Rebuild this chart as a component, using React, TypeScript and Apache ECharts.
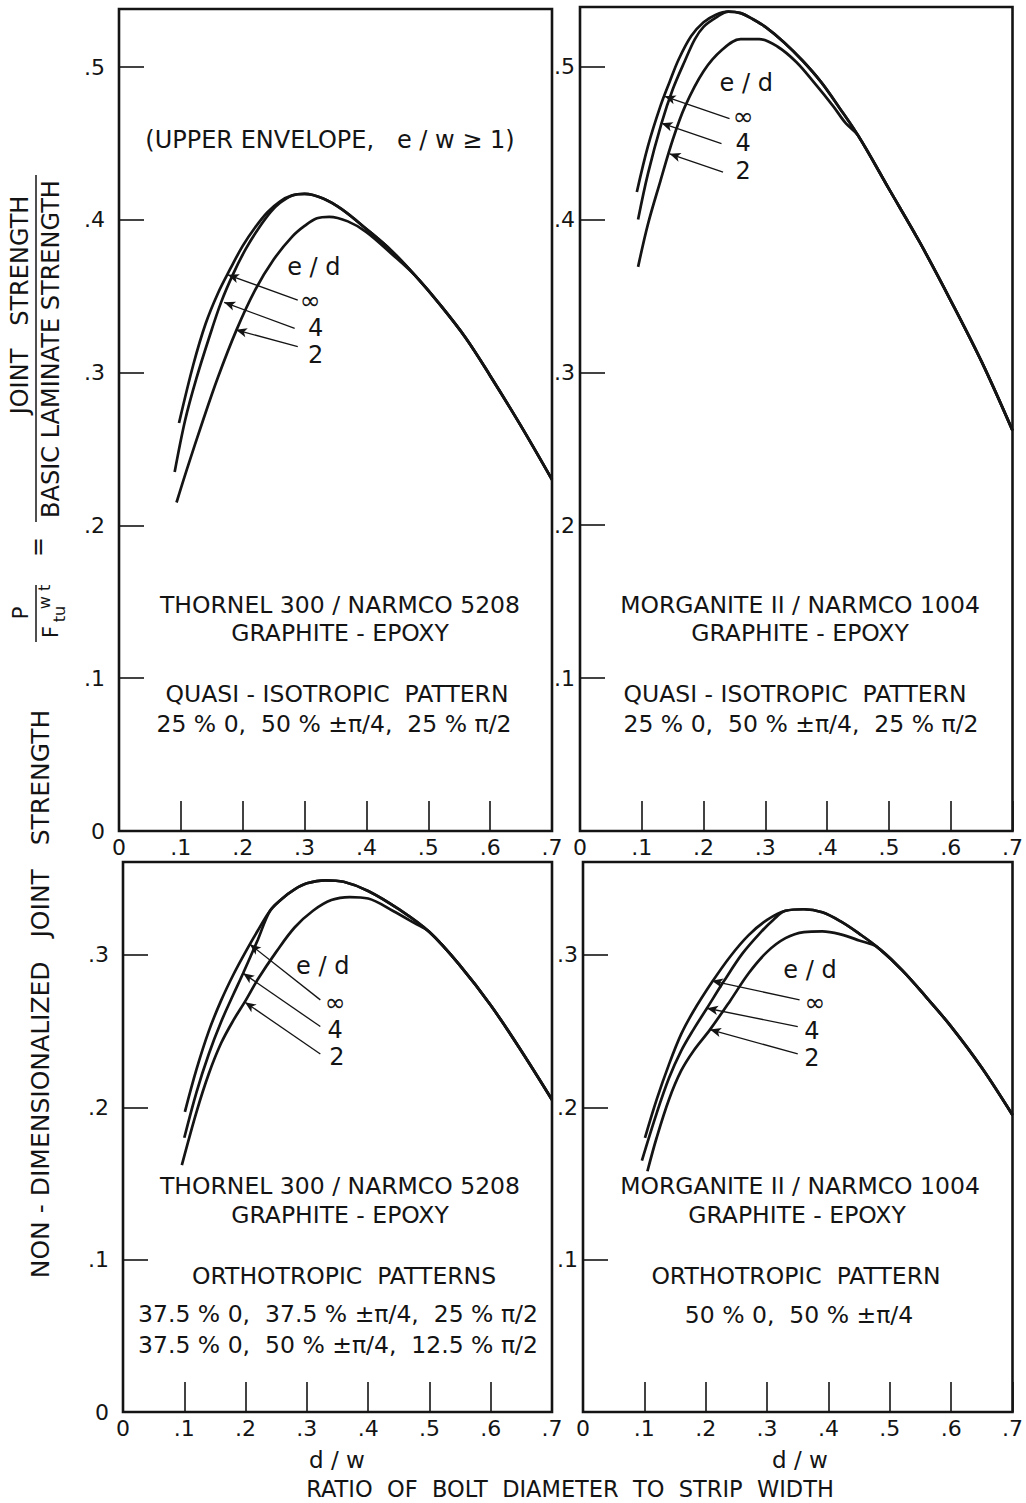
import React, { useEffect, useRef } from 'react';
import * as echarts from 'echarts';

const FONT = '"DejaVu Sans", "Liberation Sans", sans-serif';
const INK = '#141414';

// ---------- data (d/w , P/Ftu w t) ----------
// Top-left: Thornel 300 / Narmco 5208, quasi-isotropic
const TL_INF_RISE = [[0.097, 0.267], [0.12, 0.305], [0.14, 0.332], [0.16, 0.352], [0.18, 0.368], [0.2, 0.383], [0.22, 0.395], [0.24, 0.405], [0.26, 0.412]];
const TL_4_RISE = [[0.09, 0.235], [0.107, 0.269], [0.125, 0.296], [0.145, 0.322], [0.165, 0.346], [0.185, 0.365], [0.205, 0.381], [0.225, 0.394], [0.245, 0.405], [0.26, 0.411]];
const TL_PEAK = [[0.28, 0.416], [0.3, 0.417], [0.33, 0.414], [0.36, 0.407], [0.4, 0.394], [0.44, 0.38]];
const TL_2_OWN = [[0.093, 0.215], [0.11, 0.237], [0.136, 0.269], [0.16, 0.297], [0.19, 0.328], [0.22, 0.354], [0.25, 0.374], [0.28, 0.389], [0.3, 0.396], [0.32, 0.401], [0.34, 0.402], [0.37, 0.399], [0.4, 0.392], [0.44, 0.378]];
const TL_TAIL = [[0.48, 0.363], [0.52, 0.344], [0.56, 0.323], [0.6, 0.298], [0.65, 0.265], [0.7, 0.23]];

// Top-right: Morganite II / Narmco 1004, quasi-isotropic
const TR_INF_RISE = [[0.092, 0.418], [0.11, 0.448], [0.13, 0.474], [0.145, 0.49], [0.16, 0.505], [0.18, 0.52], [0.2, 0.529], [0.22, 0.534]];
const TR_4_RISE = [[0.094, 0.4], [0.11, 0.43], [0.132, 0.463], [0.15, 0.485], [0.17, 0.504], [0.186, 0.518], [0.2, 0.526], [0.22, 0.532]];
const TR_PEAK = [[0.24, 0.536], [0.26, 0.535], [0.28, 0.531], [0.3, 0.526], [0.33, 0.516], [0.36, 0.504], [0.39, 0.49], [0.42, 0.473]];
const TR_2_OWN = [[0.094, 0.369], [0.11, 0.397], [0.13, 0.425], [0.15, 0.452], [0.17, 0.474], [0.2, 0.497], [0.23, 0.511], [0.26, 0.518], [0.29, 0.518], [0.32, 0.513], [0.35, 0.503], [0.38, 0.489], [0.41, 0.474], [0.43, 0.463]];
const TR_TAIL = [[0.45, 0.455], [0.5, 0.42], [0.55, 0.385], [0.6, 0.347], [0.65, 0.307], [0.7, 0.262]];

// Bottom-left: Thornel 300 / Narmco 5208, orthotropic
const BL_INF_RISE = [[0.101, 0.197], [0.12, 0.225], [0.14, 0.25], [0.16, 0.27], [0.18, 0.287], [0.2, 0.302], [0.22, 0.316]];
const BL_4_RISE = [[0.1, 0.18], [0.12, 0.21], [0.14, 0.235], [0.16, 0.256], [0.18, 0.274], [0.196, 0.288], [0.22, 0.31]];
const BL_PEAK = [[0.24, 0.329], [0.26, 0.337], [0.28, 0.343], [0.3, 0.347], [0.33, 0.349], [0.36, 0.348], [0.4, 0.342], [0.45, 0.33]];
const BL_2_OWN = [[0.096, 0.162], [0.12, 0.197], [0.14, 0.222], [0.16, 0.242], [0.18, 0.257], [0.2, 0.27], [0.22, 0.284], [0.25, 0.302], [0.28, 0.318], [0.31, 0.329], [0.34, 0.336], [0.37, 0.338], [0.4, 0.337], [0.44, 0.329], [0.475, 0.321]];
const BL_TAIL = [[0.5, 0.315], [0.55, 0.293], [0.6, 0.267], [0.65, 0.237], [0.7, 0.205]];

// Bottom-right: Morganite II / Narmco 1004, orthotropic
const BR_INF_RISE = [[0.101, 0.18], [0.12, 0.205], [0.14, 0.228], [0.16, 0.248], [0.18, 0.263], [0.21, 0.282], [0.24, 0.299], [0.27, 0.313], [0.3, 0.323]];
const BR_4_RISE = [[0.096, 0.165], [0.12, 0.196], [0.14, 0.219], [0.16, 0.237], [0.18, 0.251], [0.202, 0.265], [0.23, 0.283], [0.26, 0.301], [0.29, 0.315], [0.31, 0.323]];
const BR_PEAK = [[0.33, 0.329], [0.36, 0.33], [0.39, 0.328], [0.42, 0.322], [0.45, 0.314]];
const BR_2_OWN = [[0.105, 0.158], [0.12, 0.18], [0.14, 0.205], [0.16, 0.224], [0.18, 0.237], [0.207, 0.251], [0.24, 0.27], [0.27, 0.288], [0.3, 0.302], [0.33, 0.311], [0.36, 0.315], [0.39, 0.3155], [0.42, 0.3135], [0.45, 0.3095]];
const BR_TAIL = [[0.48, 0.305], [0.52, 0.29], [0.56, 0.272], [0.6, 0.253], [0.65, 0.226], [0.7, 0.195]];

// e/d annotations (label anchor, arrow tail -> arrow head), in data units
const ED_NAMES = ['e / d', '∞', '4', '2'];
const TL_LABEL_POS = [[0.315, 0.369], [0.309, 0.3475], [0.318, 0.329], [0.318, 0.3115]];
const TL_ARROWS = [[[0.289, 0.3475], [0.176, 0.364]], [[0.284, 0.329], [0.17, 0.346]], [[0.289, 0.317], [0.189, 0.328]]];
const TR_LABEL_POS = [[0.269, 0.489], [0.264, 0.4675], [0.264, 0.45], [0.264, 0.4315]];
const TR_ARROWS = [[[0.242, 0.466], [0.137, 0.4806]], [[0.229, 0.4496], [0.132, 0.463]], [[0.2315, 0.431], [0.145, 0.443]]];
const BL_LABEL_POS = [[0.326, 0.293], [0.346, 0.2685], [0.346, 0.251], [0.349, 0.233]];
const BL_ARROWS = [[[0.322, 0.2705], [0.207, 0.307]], [[0.322, 0.253], [0.196, 0.288]], [[0.322, 0.235], [0.199, 0.269]]];
const BR_LABEL_POS = [[0.37, 0.29], [0.378, 0.2686], [0.373, 0.25], [0.373, 0.2325]];
const BR_ARROWS = [[[0.353, 0.2705], [0.21, 0.283]], [[0.35, 0.253], [0.202, 0.265]], [[0.35, 0.235], [0.207, 0.251]]];

const PANELS = [
  { inf: [...TL_INF_RISE, ...TL_PEAK, ...TL_TAIL], four: [...TL_4_RISE, ...TL_PEAK, ...TL_TAIL], two: [...TL_2_OWN, ...TL_TAIL], labels: TL_LABEL_POS, arrows: TL_ARROWS },
  { inf: [...TR_INF_RISE, ...TR_PEAK, ...TR_TAIL], four: [...TR_4_RISE, ...TR_PEAK, ...TR_TAIL], two: [...TR_2_OWN, ...TR_TAIL], labels: TR_LABEL_POS, arrows: TR_ARROWS },
  { inf: [...BL_INF_RISE, ...BL_PEAK, ...BL_TAIL], four: [...BL_4_RISE, ...BL_PEAK, ...BL_TAIL], two: [...BL_2_OWN, ...BL_TAIL], labels: BL_LABEL_POS, arrows: BL_ARROWS },
  { inf: [...BR_INF_RISE, ...BR_PEAK, ...BR_TAIL], four: [...BR_4_RISE, ...BR_PEAK, ...BR_TAIL], two: [...BR_2_OWN, ...BR_TAIL], labels: BR_LABEL_POS, arrows: BR_ARROWS },
];

// ---------- layout ----------
const GRIDS = [
  { left: 119, top: 9, width: 433, height: 822, yMax: 0.538, showZero: true },
  { left: 580, top: 7, width: 433, height: 824, yMax: 0.539, showZero: false },
  { left: 123, top: 862, width: 429, height: 550, yMax: 0.361, showZero: true },
  { left: 583, top: 862, width: 430, height: 550, yMax: 0.361, showZero: false },
];

const tickText = (v: number, showZero: boolean) => {
  const k = Math.round(v * 10);
  if (Math.abs(v * 10 - k) > 1e-6) return '';
  if (k === 0) return showZero ? '0' : '';
  return '.' + k;
};

const txt = (x: number, y: number, text: string, size = 22, rot = 0) => ({
  type: 'text',
  x,
  y,
  rotation: rot,
  silent: true,
  style: { text, fill: INK, font: `${size}px ${FONT}`, textAlign: 'center', textVerticalAlign: 'middle' },
});

const line = (x1: number, y1: number, x2: number, y2: number) => ({
  type: 'line',
  silent: true,
  shape: { x1, y1, x2, y2 },
  style: { stroke: INK, lineWidth: 1.5 },
});

export default function App() {
  const ref = useRef<HTMLDivElement>(null);
  useEffect(() => {
    if (!ref.current) return;
    const chart = echarts.init(ref.current, null, { renderer: 'svg' });
    const R = Math.PI / 2;
    const series: any[] = [];
    PANELS.forEach((p, i) => {
      const base = { type: 'line', xAxisIndex: i, yAxisIndex: i, symbol: 'none', smooth: 0.35, silent: true, lineStyle: { color: INK, width: 2.7 } };
      series.push({
        ...base,
        name: `inf${i}`,
        data: p.inf,
        markLine: {
          silent: true,
          symbol: ['none', 'arrow'],
          symbolSize: [7, 11],
          label: { show: false },
          lineStyle: { color: INK, width: 1.3, type: 'solid' },
          data: p.arrows.map(([a, b]) => [{ coord: a }, { coord: b }]),
        },
      });
      series.push({ ...base, name: `four${i}`, data: p.four });
      series.push({ ...base, name: `two${i}`, data: p.two });
      series.push({
        type: 'scatter',
        xAxisIndex: i,
        yAxisIndex: i,
        silent: true,
        symbolSize: 0.01,
        itemStyle: { color: INK },
        label: {
          show: true, position: 'inside', formatter: '{b}', color: INK, fontSize: 24, fontFamily: FONT,
          textBorderColor: 'transparent', textBorderWidth: 0, opacity: 1,
        },
        data: p.labels.map((v, k) => ({
          name: ED_NAMES[k],
          value: v,
          label: k === 1 ? { fontSize: 25 } : {},
        })),
      });
    });

    chart.setOption({
      animation: false,
      backgroundColor: '#fff',
      grid: GRIDS.map((g) => ({
        left: g.left, top: g.top, width: g.width, height: g.height,
        show: true, borderColor: INK, borderWidth: 2.6, backgroundColor: 'transparent',
      })),
      xAxis: GRIDS.map((g, i) => ({
        type: 'value', gridIndex: i, min: 0, max: 0.7, interval: 0.1,
        axisLine: { show: false },
        axisTick: { show: true, inside: true, length: 30, lineStyle: { color: INK, width: 1.6 } },
        axisLabel: { formatter: (v: number) => tickText(v, true), fontSize: 22, color: INK, fontFamily: FONT, margin: 5 },
        splitLine: { show: false },
      })),
      yAxis: GRIDS.map((g, i) => ({
        type: 'value', gridIndex: i, min: 0, max: g.yMax, interval: 0.1,
        axisLine: { show: false },
        axisTick: { show: true, inside: true, length: 25, lineStyle: { color: INK, width: 1.6 } },
        axisLabel: { formatter: (v: number) => tickText(v, g.showZero), fontSize: 22, color: INK, fontFamily: FONT, margin: i % 2 === 0 ? 14 : 5 },
        splitLine: { show: false },
      })),
      series,
      graphic: [
        txt(330, 140, '(UPPER ENVELOPE,   e / w ≥ 1)', 24),
        txt(340, 605, 'THORNEL 300 / NARMCO 5208', 23.5),
        txt(340, 633, 'GRAPHITE - EPOXY', 23.5),
        txt(337, 694, 'QUASI - ISOTROPIC  PATTERN', 23.5),
        txt(334, 724, '25 % 0,  50 % ±π/4,  25 % π/2', 23.5),
        txt(800, 605, 'MORGANITE II / NARMCO 1004', 23.5),
        txt(800, 633, 'GRAPHITE - EPOXY', 23.5),
        txt(795, 694, 'QUASI - ISOTROPIC  PATTERN', 23.5),
        txt(801, 724, '25 % 0,  50 % ±π/4,  25 % π/2', 23.5),
        txt(340, 1186, 'THORNEL 300 / NARMCO 5208', 23.5),
        txt(340, 1215, 'GRAPHITE - EPOXY', 23.5),
        txt(344, 1276, 'ORTHOTROPIC  PATTERNS', 23.5),
        txt(338, 1314, '37.5 % 0,  37.5 % ±π/4,  25 % π/2', 23.5),
        txt(338, 1345, '37.5 % 0,  50 % ±π/4,  12.5 % π/2', 23.5),
        txt(800, 1186, 'MORGANITE II / NARMCO 1004', 23.5),
        txt(797, 1215, 'GRAPHITE - EPOXY', 23.5),
        txt(796, 1276, 'ORTHOTROPIC  PATTERN', 23.5),
        txt(799, 1315, '50 % 0,  50 % ±π/4', 23.5),
        txt(337, 1460, 'd / w', 23),
        txt(800, 1460, 'd / w', 23),
        txt(570, 1489, 'RATIO  OF  BOLT  DIAMETER  TO  STRIP  WIDTH', 22.5),
        txt(40, 994, 'NON - DIMENSIONALIZED   JOINT   STRENGTH', 25, R),
        // formula P / (F_tu w t) = joint strength / basic laminate strength
        txt(20, 305, 'JOINT   STRENGTH', 24, R),
        line(36, 175, 36, 522),
        txt(51, 349, 'BASIC LAMINATE STRENGTH', 24, R),
        txt(38, 547, '=', 24, R),
        txt(21, 613, 'P', 21, R),
        line(36, 585, 36, 642),
        txt(51, 632, 'F', 21, R),
        txt(59, 614, 'tu', 16, R),
        txt(44, 597, 'w t', 16, R),
      ],
    });
    return () => chart.dispose();
  }, []);
  return <div ref={ref} style={{ position: 'absolute', left: 0, top: 0, width: 1026, height: 1503, background: '#fff' }} />;
}
